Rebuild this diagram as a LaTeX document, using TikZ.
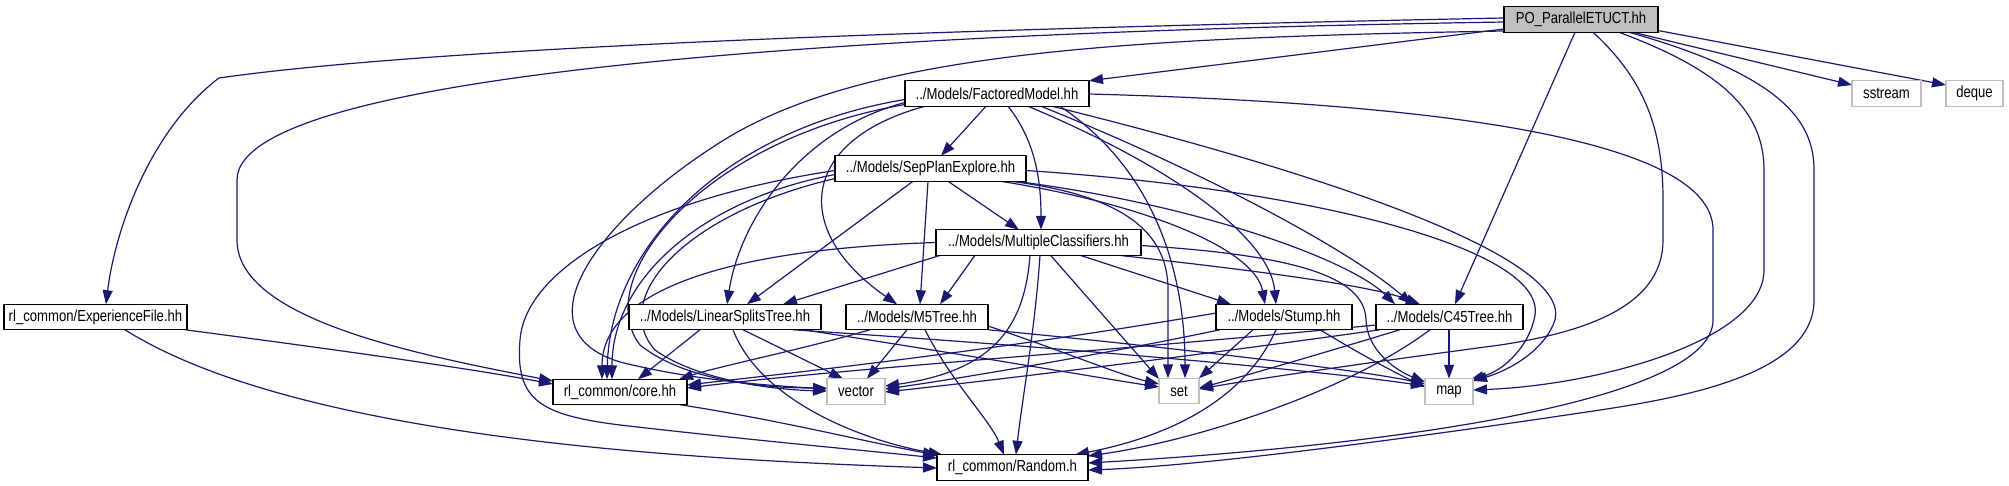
\documentclass[tikz,border=0pt]{standalone}
\usepackage{fontspec}
\newfontfamily\dfont{Liberation Sans}[FakeStretch=0.82]
\usetikzlibrary{arrows.meta,calc}
\definecolor{edgec}{HTML}{191970}
\definecolor{gbord}{HTML}{BFBFBF}
\definecolor{gfill}{HTML}{BFBFBF}
\pgfdeclarelayer{bg}
\pgfsetlayers{bg,main}
\tikzset{
 dep/.style={draw=edgec, line width=1.2pt, -{Triangle[length=14pt,width=10pt]}},
 nbox/.style={draw=black, line width=1.4pt, fill=white, minimum height=25.5pt, inner sep=0pt, outer sep=0pt, font=\dfont\fontsize{16}{19}\selectfont},
 sbox/.style={nbox, draw=gbord},
 rootbox/.style={nbox, fill=gfill}
}
\begin{document}
\begin{tikzpicture}[x=1pt,y=-1pt]
\useasboundingbox (0,0) rectangle (2009,485);
% nodes
\node[rootbox, minimum width=154pt] (P) at (1581,19.5) {PO\_ParallelETUCT.hh};
\node[sbox, minimum width=69pt] (ss) at (1886.5,93.5) {sstream};
\node[sbox, minimum width=57pt] (dq) at (1974.5,93.5) {deque};
\node[nbox, minimum width=184pt] (FM) at (997,93.5) {../Models/FactoredModel.hh};
\node[nbox, minimum width=191pt] (SPE) at (930.5,168.5) {../Models/SepPlanExplore.hh};
\node[nbox, minimum width=205pt] (MC) at (1038.5,242.5) {../Models/MultipleClassifiers.hh};
\node[nbox, minimum width=183pt] (EF) at (95.5,317) {rl\_common/ExperienceFile.hh};
\node[nbox, minimum width=192pt] (LST) at (725,317) {../Models/LinearSplitsTree.hh};
\node[nbox, minimum width=142pt] (M5) at (917,317) {../Models/M5Tree.hh};
\node[nbox, minimum width=136pt] (ST) at (1284,317) {../Models/Stump.hh};
\node[nbox, minimum width=147pt] (C45) at (1449.5,317) {../Models/C45Tree.hh};
\node[nbox, minimum width=134pt] (core) at (620,392) {rl\_common/core.hh};
\node[sbox, minimum width=58pt] (vec) at (856,391.5) {vector};
\node[sbox, minimum width=40pt] (set) at (1179,391) {set};
\node[sbox, minimum width=48pt] (map) at (1449,391.5) {map};
\node[nbox, minimum width=151pt] (rnd) at (1012.5,467.5) {rl\_common/Random.h};
\begin{pgfonlayer}{bg}
% from PO_ParallelETUCT
\draw[dep] ($(P)+(-77,-1.5)$) .. controls (1000,28) and (450,45) .. (219,78) .. controls (150,130) and (115,230) .. ($(EF)+(10.5,-12.75)$);
\draw[dep] ($(P)+(-77,2.5)$) .. controls (1000,30) and (237,60) .. (237,180) -- (237,240) .. controls (237,320) and (420,355) .. ($(core)+(-67,-11)$);
\draw[dep] ($(P)+(-77,9.5)$) -- ($(FM)+(92,-12.75)$);
\draw[dep] ($(P)+(-77,11.5)$) .. controls (1100,38) and (850,55) .. (713,147) .. controls (600,220) and (515,330) .. (620,362) .. controls (700,382) and (780,386) .. ($(vec)+(-29,-2.5)$);
\draw[dep] ($(P)+(-6,12.75)$) -- ($(C45)+(5.5,-12.75)$);
\draw[dep] ($(P)+(12,12.75)$) .. controls (1645,80) and (1663,130) .. (1663,200) -- (1663,240) .. controls (1663,300) and (1600,330) .. (1500,345) .. controls (1350,365) and (1250,380) .. ($(set)+(20,-2)$);
\draw[dep] ($(P)+(38,12.75)$) .. controls (1720,70) and (1764,110) .. (1764,170) -- (1764,270) .. controls (1764,340) and (1600,385) .. ($(map)+(24,-1.5)$);
\draw[dep] ($(P)+(48,12.75)$) .. controls (1780,75) and (1814,120) .. (1814,170) -- (1814,300) .. controls (1814,370) and (1700,395) .. (1600,410) .. controls (1400,440) and (1200,466) .. ($(rnd)+(75.5,2.5)$);
\draw[dep] ($(P)+(52,12.75)$) -- ($(ss)+(-34.5,-8.5)$);
\draw[dep] ($(P)+(77,11)$) -- ($(dq)+(-28.5,-8.5)$);
% from FactoredModel
\draw[dep] ($(FM)+(92,0.5)$) .. controls (1500,105) and (1713,150) .. (1713,230) -- (1713,320) .. controls (1713,400) and (1400,445) .. ($(rnd)+(75.5,-4.5)$);
\draw[dep] ($(FM)+(-11,12.75)$) -- ($(SPE)+(10.5,-12.75)$);
\draw[dep] ($(FM)+(11,12.75)$) .. controls (1035,140) and (1041,180) .. ($(MC)+(2.5,-12.75)$);
\draw[dep] ($(FM)+(-92,9)$) .. controls (800,130) and (740,220) .. ($(LST)+(2,-12.75)$);
\draw[dep] ($(FM)+(-72,12.75)$) .. controls (800,140) and (790,230) .. ($(M5)+(-20,-12.75)$);
\draw[dep] ($(FM)+(31,12.75)$) .. controls (1180,170) and (1270,240) .. ($(ST)+(-8,-12.75)$);
\draw[dep] ($(FM)+(44,12.75)$) .. controls (1200,170) and (1350,250) .. ($(C45)+(-37.5,-12.75)$);
\draw[dep] ($(FM)+(55,12.75)$) .. controls (1350,180) and (1570,260) .. (1555,320) .. controls (1545,350) and (1510,370) .. ($(map)+(24,-10.5)$);
\draw[dep] ($(FM)+(63,12.75)$) .. controls (1170,180) and (1185,300) .. ($(set)+(6,-12.75)$);
\draw[dep] ($(FM)+(-92,6)$) .. controls (720,130) and (610,250) .. ($(core)+(-13,-12.75)$);
\draw[dep] ($(FM)+(-92,11)$) .. controls (700,140) and (590,280) .. (640,345) .. controls (690,385) and (780,388) .. ($(vec)+(-29,-3.5)$);
% from SepPlanExplore
\draw[dep] ($(SPE)+(17.5,12.75)$) -- ($(MC)+(-19.5,-12.75)$);
\draw[dep] ($(SPE)+(-17.5,12.75)$) -- ($(LST)+(22,-12.75)$);
\draw[dep] ($(SPE)+(-2.5,12.75)$) -- ($(M5)+(3,-12.75)$);
\draw[dep] ($(SPE)+(70,12.75)$) .. controls (1150,205) and (1255,250) .. ($(ST)+(-19,-12.75)$);
\draw[dep] ($(SPE)+(85,12.75)$) .. controls (1200,205) and (1350,260) .. ($(C45)+(-54.5,-12.75)$);
\draw[dep] ($(SPE)+(95.5,2)$) .. controls (1320,190) and (1545,250) .. (1535,315) .. controls (1530,345) and (1505,370) .. ($(map)+(21,-11.5)$);
\draw[dep] ($(SPE)+(80,12.75)$) .. controls (1120,195) and (1168,230) .. (1168,290) -- ($(set)+(-11,-12.75)$);
\draw[dep] ($(SPE)+(-95.5,6)$) .. controls (700,200) and (612,280) .. ($(core)+(-8,-12.75)$);
\draw[dep] ($(SPE)+(-95.5,10)$) .. controls (680,215) and (610,300) .. (655,350) .. controls (700,382) and (780,390) .. ($(vec)+(-29,-0.5)$);
\draw[dep] ($(SPE)+(-95.5,2)$) .. controls (640,200) and (525,270) .. (520,340) .. controls (515,400) and (540,415) .. (620,425) .. controls (750,440) and (860,450) .. ($(rnd)+(-75.5,-9.5)$);
% from MultipleClassifiers
\draw[dep] ($(MC)+(-98,12.75)$) -- ($(LST)+(58,-12.75)$);
\draw[dep] ($(MC)+(-63.5,12.75)$) -- ($(M5)+(23,-12.75)$);
\draw[dep] ($(MC)+(41.5,12.75)$) -- ($(ST)+(-53,-12.75)$);
\draw[dep] ($(MC)+(80,12.75)$) .. controls (1250,270) and (1370,285) .. ($(C45)+(-29.5,-12.75)$);
\draw[dep] ($(MC)+(-102.5,0)$) .. controls (700,250) and (602,300) .. ($(core)+(-18,-12.75)$);
\draw[dep] ($(MC)+(-8.5,12.75)$) .. controls (1025,320) and (1000,370) .. ($(vec)+(29,-5.5)$);
\draw[dep] ($(MC)+(12,12.75)$) -- ($(set)+(-20,-12)$);
\draw[dep] ($(MC)+(102.5,3)$) .. controls (1290,255) and (1365,275) .. (1366,320) .. controls (1367,350) and (1395,370) .. ($(map)+(-24,-9.5)$);
\draw[dep] ($(MC)+(1.5,12.75)$) .. controls (1035,330) and (1022,400) .. ($(rnd)+(3.5,-12.75)$);
% from LinearSplitsTree
\draw[dep] ($(LST)+(-25,12.75)$) -- ($(core)+(18,-12.75)$);
\draw[dep] ($(LST)+(18,12.75)$) -- ($(vec)+(-13,-12.75)$);
\draw[dep] ($(LST)+(78,12.75)$) .. controls (950,352) and (1100,378) .. ($(set)+(-20,-4)$);
\draw[dep] ($(LST)+(68,12.75)$) .. controls (1100,350) and (1330,372) .. ($(map)+(-24,-5.5)$);
\draw[dep] ($(LST)+(8,12.75)$) .. controls (760,400) and (860,440) .. ($(rnd)+(-70,-12.75)$);
% from M5Tree
\draw[dep] ($(M5)+(-47,12.75)$) .. controls (800,350) and (720,366) .. ($(core)+(59,-12.75)$);
\draw[dep] ($(M5)+(-10,12.75)$) -- ($(vec)+(11,-12.75)$);
\draw[dep] ($(M5)+(71,9)$) .. controls (1060,350) and (1120,375) .. ($(set)+(-20,-7)$);
\draw[dep] ($(M5)+(71,12.75)$) .. controls (1200,350) and (1370,372) .. ($(map)+(-24,-7.5)$);
\draw[dep] ($(M5)+(8,12.75)$) .. controls (950,380) and (990,420) .. ($(rnd)+(-8.5,-12.75)$);
% from Stump
\draw[dep] ($(ST)+(-68,-4)$) .. controls (1000,350) and (800,372) .. ($(core)+(67,-7)$);
\draw[dep] ($(ST)+(-64,12.75)$) .. controls (1100,355) and (950,380) .. ($(vec)+(29,-2.5)$);
\draw[dep] ($(ST)+(-31,12.75)$) -- ($(set)+(20,-12.75)$);
\draw[dep] ($(ST)+(36,12.75)$) .. controls (1370,360) and (1400,375) .. ($(map)+(-24,-4.5)$);
\draw[dep] ($(ST)+(-8,12.75)$) .. controls (1240,410) and (1150,440) .. ($(rnd)+(62.5,-12.75)$);
% from C45Tree
\draw[dep] ($(C45)+(-73.5,8)$) .. controls (1100,352) and (850,368) .. ($(core)+(67,-4)$);
\draw[dep] ($(C45)+(-69.5,12.75)$) .. controls (1150,362) and (950,385) .. ($(vec)+(29,0.5)$);
\draw[dep] ($(C45)+(-49.5,12.75)$) .. controls (1300,360) and (1230,380) .. ($(set)+(20,-3)$);
\draw[dep] ($(C45)+(-0.5,12.75)$) -- ($(map)+(0,-12.75)$);
\draw[dep] ($(C45)+(-19.5,12.75)$) .. controls (1350,390) and (1200,440) .. ($(rnd)+(75.5,-11.5)$);
% from ExperienceFile
\draw[dep] ($(EF)+(89.5,12.75)$) .. controls (300,345) and (450,365) .. ($(core)+(-67,-8)$);
\draw[dep] ($(EF)+(29.5,12.75)$) .. controls (300,440) and (700,460) .. ($(rnd)+(-75.5,0.5)$);
% from core
\draw[dep] ($(core)+(60,12.75)$) .. controls (780,420) and (880,445) .. ($(rnd)+(-75.5,-12.75)$);
\end{pgfonlayer}
\end{tikzpicture}
\end{document}
